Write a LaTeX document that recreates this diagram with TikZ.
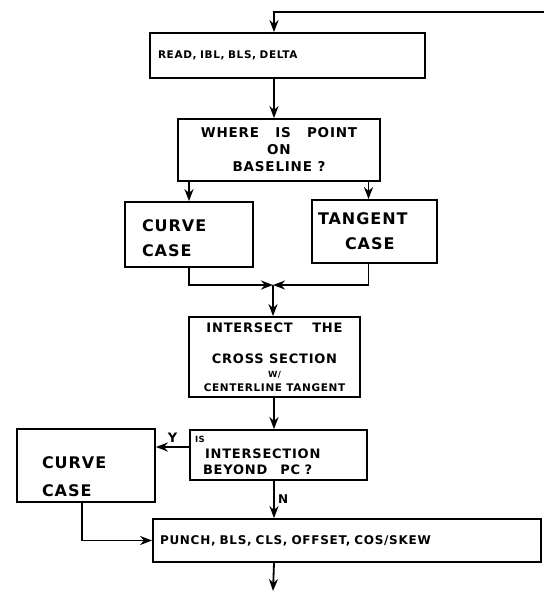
\documentclass[tikz,border=0pt]{standalone}
\usepackage{fontspec}
\setmainfont{DejaVu Sans}[UprightFont={* Bold},LetterSpace=6]
\usetikzlibrary{arrows.meta}

\newcommand{\lettering}[2]{\fontsize{#1}{#2}\selectfont}

\tikzset{
  box/.style={draw, line width=1.8pt, inner sep=0pt},
  flow/.style={-{Stealth[length=12pt,width=9pt]}, line width=1.8pt},
}

\begin{document}
\begin{tikzpicture}[x=1pt, y=-1pt]
	\useasboundingbox (0,0) rectangle (544,591);

	% Boxes, top to bottom
	\node[box, minimum height=45pt, inner xsep=8pt, text width=259pt, align=left, font=\lettering{10.5}{12}] (read) at (287.5,55.5) {READ, IBL, BLS, DELTA};
	\node[box, minimum width=202pt, minimum height=62pt, align=center, font=\lettering{13.5}{17}] (where) at (279,150) {WHERE\hspace{1.2em}IS\hspace{1.2em}POINT\\ON\\BASELINE ?};

	% The two cases
	\node[box, minimum height=65pt, inner xsep=17pt, text width=94pt, align=left, font=\lettering{16}{25}] (curve1) at (189,234.5) {\rule{0pt}{19pt}CURVE\\CASE};
	\node[box, minimum height=63pt, inner xsep=6pt, text width=113pt, align=left, font=\lettering{16}{25}] (tangent) at (374.5,231.5) {TANGENT\\\hspace*{27pt}CASE};

	% Intersection
	\node[box, minimum width=171pt, minimum height=80pt, align=center, font=\lettering{13}{14}] (box3) at (274.5,357) {INTERSECT\hspace{1.5em}THE\\[17pt]CROSS SECTION\\{\lettering{8.5}{8}W/}\\{\lettering{10.5}{10}CENTERLINE TANGENT}};
	\node[box, minimum height=50pt, inner xsep=5pt, text width=167pt, align=left, font=\lettering{13}{16}] (check) at (278.5,455) {{\lettering{8.5}{8}IS}\\\hspace*{10pt}INTERSECTION\\\hspace*{8pt}BEYOND\quad PC ?};
	\node[box, minimum height=73pt, inner xsep=25pt, text width=88pt, align=left, font=\lettering{16}{28}] (curve2) at (86,465.5) {\rule{0pt}{34pt}CURVE\\CASE};

	% Output
	\node[box, minimum height=43pt, inner xsep=7pt, text width=374pt, align=left, font=\lettering{12}{12}] (box5) at (347,540.5) {PUNCH, BLS, CLS, OFFSET, COS/SKEW};

	\coordinate (entry) at (544,12);
	\coordinate (spine) at (274,0);
	\coordinate (join) at (273,285);
	\coordinate (exit) at (273,591);

	% Connectors
	\draw[flow] (entry) -| (spine |- read.north);
	\draw[flow] (spine |- read.south) -- (spine |- where.north);
	\draw[flow] (curve1.north |- where.south) -- (curve1.north);
	\draw[flow] ([xshift=-6pt]tangent.north |- where.south) -- ([xshift=-6pt]tangent.north);
	\draw[flow] (curve1.south) |- (join);
	\draw[flow] ([xshift=-6pt]tangent.south) |- (join);
	\draw[flow] (join) -- (join |- box3.north);
	\draw[flow] (spine |- box3.south) -- (spine |- check.north);
	\draw[flow] ([yshift=8pt]check.west) -- ([yshift=8pt]check.west -| curve2.east) node[midway, above, font=\lettering{13}{13}] {Y};
	\draw[flow] (spine |- check.south) -- (spine |- box5.north) node[midway, right, font=\lettering{12}{12}] {N};
	\draw[flow] ([xshift=-4pt]curve2.south) |- (box5.west);
	\draw[flow] (spine |- box5.south) -- (exit);
\end{tikzpicture}
\end{document}
